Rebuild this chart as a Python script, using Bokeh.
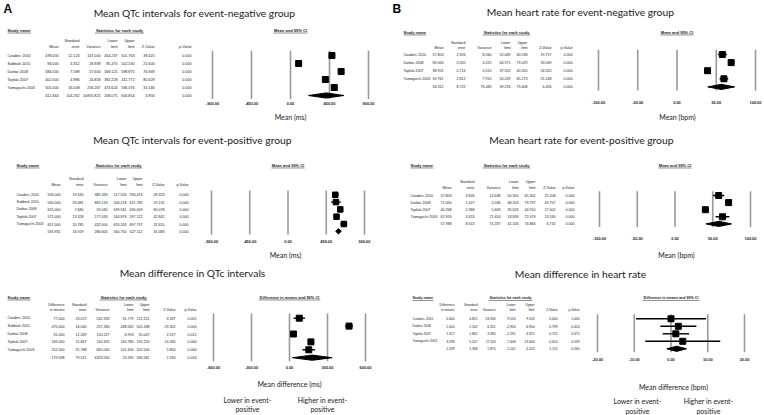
from bokeh.plotting import figure
from bokeh.models import Range1d
from bokeh.core.properties import value
from bokeh.embed import file_html
from bokeh.resources import INLINE

# ---------------- data (last entry of each value list = pooled summary row) ----------------
qtc_studies = ["Couderc 2010", "Subbiah 2010", "Darbar 2008", "Toplski 2007", "Yamaguchi 2003"]
hr_studies = ["Couderc 2010", "Darbar 2008", "Toplski 2007", "Yamaguchi 2003"]

qtc_neg_mean = [478.000, 94.000, 584.000, 402.000, 505.000, 412.464]
qtc_neg_se = [12.124, 4.352, 7.589, 4.986, 16.008, 104.262]
qtc_neg_var = [147.000, 18.939, 57.600, 24.858, 256.267, 10870.821]
qtc_neg_lower = [454.237, 85.470, 569.125, 392.228, 473.624, 208.075]
qtc_neg_upper = [501.763, 102.530, 598.875, 411.772, 536.376, 616.854]
qtc_neg_z = [39.425, 21.600, 76.949, 80.629, 31.546, 3.956]
qtc_neg_p = [0.000, 0.000, 0.000, 0.000, 0.000, 0.000]

qtc_pos_mean = [556.000, 564.000, 615.000, 571.000, 657.000, 593.931]
qtc_pos_se = [19.630, 29.481, 7.680, 13.328, 20.785, 16.929]
qtc_pos_var = [385.333, 869.143, 59.030, 177.633, 432.000, 286.600]
qtc_pos_lower = [517.526, 506.218, 599.941, 544.878, 616.263, 560.750]
qtc_pos_upper = [594.474, 621.782, 630.059, 597.122, 697.737, 627.112]
qtc_pos_z = [28.323, 19.131, 80.078, 42.842, 31.610, 35.083]
qtc_pos_p = [0.000, 0.000, 0.000, 0.000, 0.000, 0.000]

qtc_diff_mean = [77.000, 470.000, 31.000, 169.000, 152.000, 179.938]
qtc_diff_se = [23.072, 16.040, 12.269, 11.847, 25.788, 79.521]
qtc_diff_var = [532.333, 257.280, 150.527, 140.355, 665.040, 6323.590]
qtc_diff_lower = [31.779, 438.562, 6.953, 145.780, 101.456, 23.295]
qtc_diff_upper = [122.221, 501.438, 55.047, 192.220, 202.544, 336.581]
qtc_diff_z = [3.337, 29.302, 2.527, 14.265, 5.894, 2.263]
qtc_diff_p = [0.001, 0.000, 0.012, 0.000, 0.000, 0.024]

hr_neg_mean = [57.803, 69.000, 38.951, 59.761, 56.312]
hr_neg_se = [2.926, 2.055, 0.714, 2.812, 8.722]
hr_neg_var = [8.560, 4.225, 0.510, 7.910, 76.080]
hr_neg_lower = [52.069, 64.971, 37.552, 54.249, 39.216]
hr_neg_upper = [63.538, 73.029, 40.350, 65.273, 73.408]
hr_neg_z = [19.757, 33.569, 54.555, 21.248, 6.456]
hr_neg_p = [0.000, 0.000, 0.000, 0.000, 0.000]

hr_pos_mean = [57.803, 71.000, 40.268, 62.959, 57.988]
hr_pos_se = [3.826, 1.427, 2.368, 4.653, 8.613]
hr_pos_var = [14.638, 2.036, 5.609, 21.654, 74.187]
hr_pos_lower = [50.305, 68.203, 35.626, 53.839, 41.106]
hr_pos_upper = [65.302, 73.797, 44.910, 72.079, 74.866]
hr_pos_z = [15.108, 49.757, 17.002, 13.530, 6.732]
hr_pos_p = [0.000, 0.000, 0.000, 0.000, 0.000]

hr_diff_mean = [0.000, 2.000, 1.317, 3.198, 1.539]
hr_diff_se = [4.855, 2.502, 1.841, 5.207, 1.368]
hr_diff_var = [23.566, 6.261, 3.390, 27.116, 1.870]
hr_diff_lower = [-9.516, -2.904, -2.291, -7.008, -1.142]
hr_diff_upper = [9.516, 6.904, 4.925, 13.404, 4.220]
hr_diff_z = [0.000, 0.799, 0.715, 0.614, 1.125]
hr_diff_p = [1.000, 0.424, 0.475, 0.539, 0.260]

qtc_ticks = [-900, -450, 0, 450, 900]
qtc_diff_ticks = [-600, -300, 0, 300, 600]
hr_ticks = [-100, -50, 0, 50, 100]
hr_diff_ticks = [-20, -10, 0, 10, 20]

mean_headers = [("", "Mean"), ("Standard", "error"), ("", "Variance"), ("Lower", "limit"),
                ("Upper", "limit"), ("", "Z-Value"), ("", "p-Value")]
diff_headers = [("Difference", "in means")] + mean_headers[1:]

# ---------------- layout (page-pixel coordinates) ----------------
W, H = 764, 415

panels = [
    dict(key="a1", title="Mean QTc intervals for event-negative group", tx=194, ty=12,
         studies=qtc_studies, cols=[qtc_neg_mean, qtc_neg_se, qtc_neg_var, qtc_neg_lower, qtc_neg_upper, qtc_neg_z, qtc_neg_p],
         ticks=qtc_ticks, headers=mean_headers, ci="Mean and 95% CI",
         name_x=7, head_y=30, stats_cx=119, ch_y=(40, 46), col_right=[58, 79, 100, 117, 134, 154, 191],
         row_y0=55, row_dy=8.0, px0=212, px1=368, tick_y=103, fs="3.7px", sq=6,
         caption="Mean (ms)", cx=290, cy=116),
    dict(key="a2", title="Mean QTc intervals for event-positive group", tx=192, ty=139,
         studies=qtc_studies, cols=[qtc_pos_mean, qtc_pos_se, qtc_pos_var, qtc_pos_lower, qtc_pos_upper, qtc_pos_z, qtc_pos_p],
         ticks=qtc_ticks, headers=mean_headers, ci="Mean and 95% CI",
         name_x=16, head_y=165, stats_cx=118, ch_y=(178, 184), col_right=[60, 83, 107, 126, 142, 164, 188],
         row_y0=194.3, row_dy=7.3, px0=211, px1=364, tick_y=241, fs="3.6px", sq=5.5,
         caption="Mean (ms)", cx=285, cy=254),
    dict(key="a3", title="Mean difference in QTc intervals", tx=192, ty=272,
         studies=qtc_studies, cols=[qtc_diff_mean, qtc_diff_se, qtc_diff_var, qtc_diff_lower, qtc_diff_upper, qtc_diff_z, qtc_diff_p],
         ticks=qtc_diff_ticks, headers=diff_headers, ci="Difference in means and 95% CI",
         name_x=7, head_y=297, stats_cx=123, ch_y=(304, 309.5), col_right=[64, 86, 109, 133, 149, 175, 196],
         row_y0=317.7, row_dy=7.9, px0=213, px1=365, tick_y=366.5, fs="3.6px", sq=6,
         caption="Mean difference (ms)", cx=289, cy=383, lo_x=247, hi_x=322, lh_y=(399, 408.5)),
    dict(key="b1", title="Mean heart rate for event-negative group", tx=580, ty=11,
         studies=hr_studies, cols=[hr_neg_mean, hr_neg_se, hr_neg_var, hr_neg_lower, hr_neg_upper, hr_neg_z, hr_neg_p],
         ticks=hr_ticks, headers=mean_headers, ci="Mean and 95% CI",
         name_x=403, head_y=32, stats_cx=506, ch_y=(42, 47.5), col_right=[443, 465, 491, 510, 527, 551, 572],
         row_y0=54, row_dy=8.1, px0=598, px1=755, tick_y=102, fs="3.6px", sq=6,
         caption="Mean (bpm)", cx=677, cy=116),
    dict(key="b2", title="Mean heart rate for event-positive group", tx=581, ty=139,
         studies=hr_studies, cols=[hr_pos_mean, hr_pos_se, hr_pos_var, hr_pos_lower, hr_pos_upper, hr_pos_z, hr_pos_p],
         ticks=hr_ticks, headers=mean_headers, ci="Mean and 95% CI",
         name_x=410, head_y=165, stats_cx=506, ch_y=(181, 187), col_right=[451, 474, 500, 518, 535, 555, 574],
         row_y0=195, row_dy=7.1, px0=599, px1=750, tick_y=238, fs="3.6px", sq=6,
         caption="Mean (bpm)", cx=676, cy=254),
    dict(key="b3", title="Mean difference in heart rate", tx=580, ty=273,
         studies=hr_studies, cols=[hr_diff_mean, hr_diff_se, hr_diff_var, hr_diff_lower, hr_diff_upper, hr_diff_z, hr_diff_p],
         ticks=hr_diff_ticks, headers=diff_headers, ci="Difference in means and 95% CI",
         name_x=412, head_y=297.7, stats_cx=510, ch_y=(304, 309), col_right=[454, 477, 495, 515, 534, 557, 579],
         row_y0=318.3, row_dy=7.5, px0=597, px1=744, tick_y=359, fs="3.3px", sq=6,
         caption="Mean difference (bpm)", cx=673, cy=386, lo_x=637, hi_x=708, lh_y=(400.7, 410)),
]

TABLE_FONT = value("Liberation Sans")
TITLE_FONT = value("Lato")
INK = "#1a1a1a"


def text_w(s, fs, bold=False):
    w = 0.0
    for ch in s:
        if ch in "iljtfr.,: I()-":
            w += 0.3
        elif ch.isupper() or ch in "mw%":
            w += 0.75
        else:
            w += 0.56
    return w * fs * (1.06 if bold else 1.0)


xr, yr = {}, {}
for P in panels:
    t = P["ticks"]
    k = (t[-1] - t[0]) / (P["px1"] - P["px0"])
    xr["x_" + P["key"]] = Range1d(start=t[0] + (0 - P["px0"]) * k, end=t[0] + (W - P["px0"]) * k)
    yr["y_" + P["key"]] = Range1d(start=(H - P["row_y0"]) / P["row_dy"], end=(0 - P["row_y0"]) / P["row_dy"])

p = figure(width=W, height=H, x_range=Range1d(0, W), y_range=Range1d(H, 0),
           extra_x_ranges=xr, extra_y_ranges=yr, x_axis_type=None, y_axis_type=None,
           toolbar_location=None, output_backend="svg", min_border=0)
p.outline_line_color = None
p.background_fill_color = "white"
p.border_fill_color = "white"

# panel letters
p.text(x=[3, 392], y=[8.5, 8.5], text=["A", "B"], text_font=value("Liberation Sans"),
       text_font_style="bold", text_font_size="12px", text_baseline="middle", text_color="black")

for P in panels:
    xn, yn = "x_" + P["key"], "y_" + P["key"]
    n = len(P["studies"])
    cols = P["cols"]
    mean, lower, upper = cols[0], cols[3], cols[4]
    ticks = P["ticks"]
    fs = P["fs"]
    fsv = float(fs[:-2])
    center_x = (P["px0"] + P["px1"]) / 2

    # title
    p.text(x=[P["tx"]], y=[P["ty"]], text=[P["title"]], text_font=TITLE_FONT, text_font_size="10.3px",
           text_align="center", text_baseline="middle", text_color=INK)

    # header line with underlines
    hf = fsv * 1.1
    heads = [(P["name_x"], "left", "Study name"), (P["stats_cx"], "center", "Statistics for each study"),
             (center_x, "center", P["ci"])]
    for hx, al, s in heads:
        p.text(x=[hx], y=[P["head_y"]], text=[s], text_font=TABLE_FONT, text_font_style="bold",
               text_font_size=f"{hf:.2f}px", text_align=al, text_baseline="middle", text_color=INK)
        w = text_w(s, hf, True)
        x0 = hx if al == "left" else hx - w / 2
        p.segment(x0=[x0], y0=[P["head_y"] + hf * 0.62], x1=[x0 + w], y1=[P["head_y"] + hf * 0.62],
                  line_color=INK, line_width=0.5)

    # column headers
    for j, (l1, l2) in enumerate(P["headers"]):
        xs, ys, ts = [], [], []
        if l1:
            xs.append(P["col_right"][j]); ys.append(P["ch_y"][0]); ts.append(l1)
        xs.append(P["col_right"][j]); ys.append(P["ch_y"][1]); ts.append(l2)
        p.text(x=xs, y=ys, text=ts, text_font=TABLE_FONT, text_font_size=fs, text_align="right",
               text_baseline="middle", text_color=INK)

    # study names and values
    p.text(x=[P["name_x"]] * n, y=list(range(n)), text=P["studies"], text_font=TABLE_FONT, text_font_size=fs,
           text_align="left", text_baseline="middle", text_color=INK, y_range_name=yn)
    for j, col in enumerate(cols):
        p.text(x=[P["col_right"][j]] * (n + 1), y=list(range(n + 1)), text=[f"{v:.3f}" for v in col],
               text_font=TABLE_FONT, text_font_size=fs, text_align="right", text_baseline="middle",
               text_color=INK, y_range_name=yn)

    # forest plot
    p.segment(x0=ticks, y0=[-0.6] * len(ticks), x1=ticks, y1=[n + 0.45] * len(ticks),
              line_color="#999999", line_width=1.6, x_range_name=xn, y_range_name=yn)
    p.segment(x0=lower[:n], y0=list(range(n)), x1=upper[:n], y1=list(range(n)),
              line_color="black", line_width=1.4, x_range_name=xn, y_range_name=yn)
    p.scatter(x=mean[:n], y=list(range(n)), marker="square", size=P["sq"], color="black",
              x_range_name=xn, y_range_name=yn)
    h = 2.6 / P["row_dy"]
    p.patch(x=[lower[n], mean[n], upper[n], mean[n]], y=[n, n - h, n, n + h], color="black",
            x_range_name=xn, y_range_name=yn)
    p.text(x=ticks, y=[P["tick_y"]] * len(ticks), text=[f"{t_:.2f}" for t_ in ticks], text_font=TABLE_FONT,
           text_font_style="bold", text_font_size="3.9px", text_align="center", text_baseline="middle",
           text_color=INK, x_range_name=xn)

    # caption
    p.text(x=[P["cx"]], y=[P["cy"]], text=[P["caption"]], text_font=TITLE_FONT, text_font_size="7px",
           text_align="center", text_baseline="middle", text_color=INK)
    if "lo_x" in P:
        p.text(x=[P["lo_x"], P["lo_x"], P["hi_x"], P["hi_x"]],
               y=[P["lh_y"][0], P["lh_y"][1], P["lh_y"][0], P["lh_y"][1]],
               text=["Lower in event-", "positive", "Higher in event-", "positive"],
               text_font=TITLE_FONT, text_font_size="7px", text_align="center", text_baseline="middle",
               text_color=INK)

open("out.html", "w").write(file_html(p, INLINE))
